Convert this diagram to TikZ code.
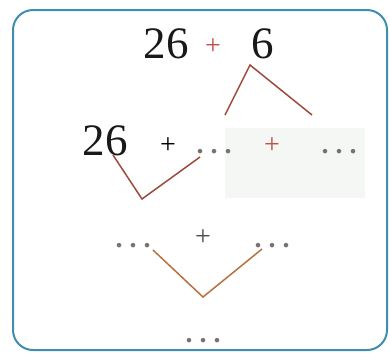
\documentclass[tikz,border=0pt]{standalone}
\usepackage{fontspec}
\setmainfont{Liberation Serif}
\usepackage{xcolor}
\usepackage{tikz}
\usetikzlibrary{positioning,calc}
\definecolor{frame}{HTML}{3E8FAE}
\definecolor{split}{HTML}{9C4A3C}
\definecolor{join}{HTML}{B8703F}
\definecolor{plusred}{HTML}{C0504A}
\definecolor{dotgray}{HTML}{7A7070}
\definecolor{bgtint}{HTML}{F5F7F5}
\newcommand{\gapdots}{.\hspace{7pt}.\hspace{7pt}.}
\tikzset{
  num/.style={inner sep=0pt,font=\fontsize{45}{47}\selectfont,text=black!90},
  plus/.style={inner sep=0pt,font=\fontsize{28}{30}\selectfont},
  gap/.style={inner sep=0pt,font=\fontsize{28}{30}\selectfont\bfseries,text=dotgray},
  leg/.style={line width=1.5pt,draw=split},
  legb/.style={line width=1.5pt,draw=join}
}

\begin{document}
\begin{tikzpicture}[x=1pt,y=-1pt]
  \useasboundingbox (0,0) rectangle (390,354);
  \fill[bgtint] (225,128) rectangle (365,198);
  \draw[frame,line width=2pt,rounded corners=20pt] (13,10) rectangle (387,350);
  % first line
  \node[num] (a) at (166,44) {26};
  \node[plus,text=plusred] (p1) at (213,47) {+};
  \node[num] (b) at (263,44) {6};
  % second line
  \node[num] (c) at (105,141) {26};
  \node[plus] (p2) at (168,146) {+};
  \node[gap] (d) at (214,152) {\gapdots};
  \node[plus,text=plusred] (p3) at (272,146) {+};
  \node[gap] (e) at (339,152) {\gapdots};
  % third line
  \node[gap] (f) at (133,246) {\gapdots};
  \node[plus,text=black!70] (p4) at (203,238) {+};
  \node[gap] (g) at (272,246) {\gapdots};
  % result
  \node[gap] (h) at (203,341) {\gapdots};
  % legs
  \coordinate (s1) at (250,65);
  \coordinate (s1l) at (225,115);
  \coordinate (s1r) at (312,115);
  \draw[leg] (s1l) -- (s1) -- (s1r);
  \coordinate (s2l) at (113,155);
  \coordinate (s2) at (142,199);
  \coordinate (s2r) at (200,157);
  \draw[leg] (s2l) -- (s2) -- (s2r);
  \coordinate (s3l) at (153,250);
  \coordinate (s3) at (203,297);
  \coordinate (s3r) at (262,249);
  \draw[legb] (s3l) -- (s3) -- (s3r);
\end{tikzpicture}
\end{document}
